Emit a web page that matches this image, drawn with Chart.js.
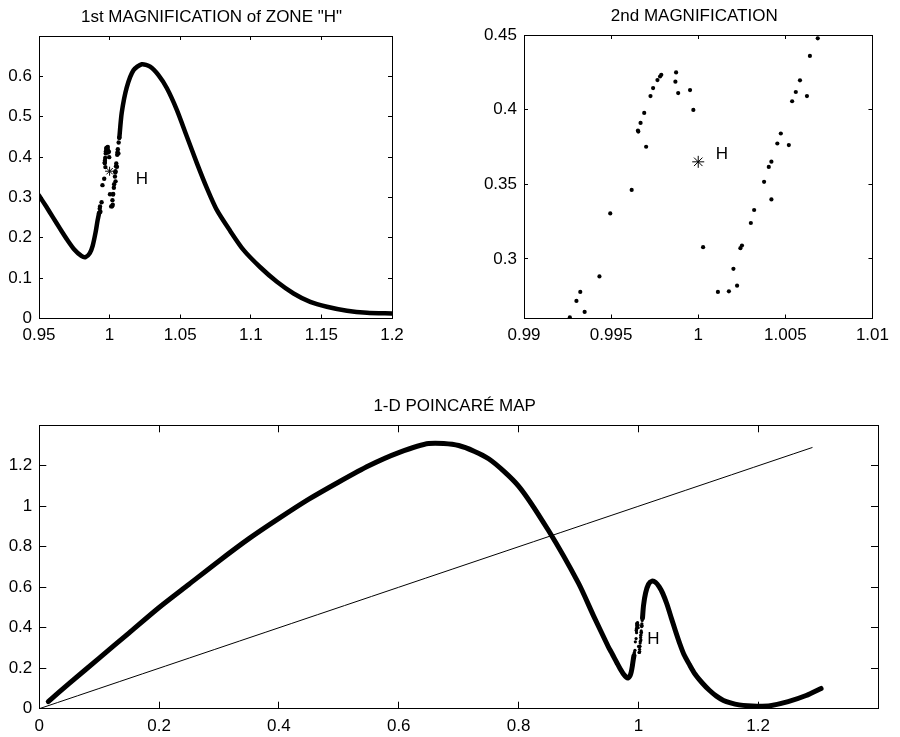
<!DOCTYPE html>
<html>
<head>
<meta charset="utf-8">
<title>1-D Poincaré map</title>
<script src="https://cdn.jsdelivr.net/npm/chart.js@4.4.1/dist/chart.umd.min.js"></script>
<style>
  html, body { margin: 0; padding: 0; background: #fff; }
  #wrap { position: relative; width: 900px; height: 737px; }
  canvas { position: absolute; }
</style>
</head>
<body>
<div id="wrap">
  <canvas id="mag1" width="450" height="360" style="left:0;top:0;width:450px;height:360px"></canvas>
  <canvas id="mag2" width="450" height="360" style="left:450px;top:0;width:450px;height:360px"></canvas>
  <canvas id="map" width="900" height="377" style="left:0;top:360px;width:900px;height:377px"></canvas>
</div>
<script>
// ---- data ----
// rising branch of the map (bottom panel only)
const riseX = [0.015, 0.05, 0.1, 0.15, 0.2, 0.25, 0.3, 0.35, 0.4, 0.45, 0.5, 0.55, 0.6, 0.65, 0.7, 0.75, 0.8, 0.85, 0.9, 0.925];
const riseY = [0.035, 0.125, 0.25, 0.375, 0.5, 0.615, 0.73, 0.84, 0.94, 1.035, 1.12, 1.2, 1.265, 1.31, 1.3, 1.235, 1.1, 0.88, 0.62, 0.46];
// dip before zone H
const dipX = [0.95, 0.955, 0.96, 0.965, 0.97, 0.975, 0.98, 0.983, 0.986, 0.988, 0.99, 0.9915, 0.9926];
const dipY = [0.305, 0.278, 0.25, 0.222, 0.195, 0.171, 0.155, 0.152, 0.162, 0.18, 0.212, 0.243, 0.262];
// scattered iterates around H (2nd magnification)
const zoneX = [0.99263, 0.99301, 0.99323, 0.99348, 0.99433, 0.99495, 0.99618, 0.99654, 0.99656, 0.99669,
  0.9969, 0.99701, 0.99726, 0.99741, 0.99766, 0.99781, 0.99788, 0.99873, 0.99869, 0.99885,
  0.99953, 0.99972, 1.00028, 1.00113, 1.00176, 1.00202, 1.00223, 1.00242, 1.00251, 1.00302,
  1.00321, 1.00378, 1.00405, 1.0042, 1.0042, 1.00454, 1.00474, 1.0052, 1.00539, 1.0056,
  1.00584, 1.00624, 1.00641, 1.00686];
const zoneY = [0.2607, 0.2718, 0.2778, 0.2644, 0.2882, 0.3304, 0.3462, 0.386, 0.3853, 0.3911,
  0.3978, 0.3751, 0.4091, 0.4144, 0.4198, 0.4222, 0.4233, 0.4249, 0.4187, 0.4111,
  0.4131, 0.3998, 0.3078, 0.2778, 0.2782, 0.2933, 0.282, 0.3071, 0.3089, 0.324,
  0.3327, 0.3516, 0.3616, 0.3651, 0.3398, 0.3773, 0.384, 0.3762, 0.4056, 0.4118,
  0.4196, 0.4091, 0.436, 0.4478];
// hump after zone H
const peakX = [1.0069, 1.0086, 1.0121, 1.0169, 1.0228, 1.0287, 1.0346, 1.0405, 1.0476, 1.0547, 1.0618, 1.0689,
  1.0759, 1.0854, 1.0948, 1.1067, 1.1185, 1.1303, 1.1421, 1.1539, 1.1681, 1.1823, 1.2];
const peakY = [0.448, 0.51, 0.572, 0.615, 0.63, 0.624, 0.603, 0.571, 0.517, 0.451, 0.385, 0.323,
  0.269, 0.217, 0.17, 0.127, 0.091, 0.062, 0.041, 0.029, 0.019, 0.014, 0.0124];
// tail (bottom panel only)
const tailX = [1.2, 1.22, 1.25, 1.28, 1.305];
const tailY = [0.0124, 0.015, 0.035, 0.065, 0.1];
// identity line
const diagX = [0, 1.29];
const diagY = [0, 1.29];
// fixed point H
const hX = 1.0, hY = 0.365;

const FONT = "'Liberation Sans', Arial, sans-serif";
Chart.defaults.font.family = FONT;
Chart.defaults.font.size = 17;
Chart.defaults.color = '#000';

const pts = (xs, ys) => xs.map((x, i) => ({ x: x, y: ys[i] }));
const fmt = v => String(parseFloat(v.toFixed(6)));

const panelTitle = {
  id: 'panelTitle',
  afterDraw(chart, args, opts) {
    const a = chart.chartArea, ctx = chart.ctx;
    ctx.save();
    ctx.font = '17px ' + FONT;
    ctx.fillStyle = '#000';
    ctx.textAlign = 'center';
    ctx.textBaseline = 'alphabetic';
    ctx.fillText(opts.text, (a.left + a.right) / 2 - 4, a.top - 14);
    if (opts.label) {
      const px = chart.scales.x.getPixelForValue(opts.label.x);
      const py = chart.scales.y.getPixelForValue(opts.label.y);
      ctx.textBaseline = 'middle';
      ctx.fillText(opts.label.text, px, py);
    }
    ctx.restore();
  }
};

function frame(box, w, h, xr, yr, tick, hide) {
  const lbl = v => (hide.indexOf(+v.toFixed(6)) >= 0 ? '' : fmt(v));
  const grid = { drawOnChartArea: false, tickLength: -tick, color: '#000', lineWidth: 1 };
  const border = { color: '#000', width: 1 };
  return {
    responsive: false,
    animation: false,
    events: [],
    layout: { padding: { left: 0, top: box.top, right: w - box.right, bottom: h - box.bottom - 30 } },
    plugins: { legend: { display: false }, tooltip: { enabled: false } },
    scales: {
      x: { type: 'linear', position: 'bottom', min: xr[0], max: xr[1],
        ticks: { stepSize: xr[2], callback: lbl, maxRotation: 0, autoSkip: false, padding: 7 + tick },
        grid: grid, border: border, afterFit: s => { s.height = 30; } },
      x2: { type: 'linear', position: 'top', min: xr[0], max: xr[1],
        ticks: { stepSize: xr[2], display: false },
        grid: grid, border: border, afterFit: s => { s.height = 0; } },
      y: { type: 'linear', position: 'left', min: yr[0], max: yr[1],
        ticks: { stepSize: yr[2], callback: lbl, padding: 7 + tick },
        grid: grid, border: border, afterFit: s => { s.width = box.left; } },
      y2: { type: 'linear', position: 'right', min: yr[0], max: yr[1],
        ticks: { stepSize: yr[2], display: false },
        grid: grid, border: border, afterFit: s => { s.width = 0; } }
    }
  };
}

const curve = (data, width) => ({
  data: data, showLine: true, borderColor: '#000', borderWidth: width,
  pointRadius: 0, borderCapStyle: 'round', borderJoinStyle: 'round', tension: 0.25
});
const dots = (data, r) => ({
  data: data, showLine: false, pointRadius: r, pointStyle: 'circle',
  backgroundColor: '#000', borderWidth: 0
});
const star = r => ({
  data: [{ x: hX, y: hY }], showLine: false, pointStyle: 'star', pointRadius: r,
  borderColor: '#000', borderWidth: 1
});

// 1st magnification
let opt1 = frame({ left: 39, top: 36, right: 392, bottom: 318.5 }, 450, 360,
  [0.95, 1.2, 0.05], [0, 0.7, 0.1], 4, [0.7]);
opt1.plugins.panelTitle = { text: '1st MAGNIFICATION of ZONE "H"', label: { text: 'H', x: 1.0228, y: 0.344 } };
new Chart(document.getElementById('mag1'), {
  type: 'scatter',
  data: { datasets: [
    curve(pts(dipX, dipY), 4.5),
    dots(pts(zoneX, zoneY), 2.2),
    curve(pts(peakX, peakY), 4.5),
    star(4.5)
  ] },
  options: opt1,
  plugins: [panelTitle]
});

// 2nd magnification
let opt2 = frame({ left: 74, top: 35, right: 428, bottom: 318.5 }, 450, 360,
  [0.99, 1.01, 0.005], [0.26, 0.45, 0.05], 4, []);
opt2.scales.y.ticks.callback = v => fmt(v);
opt2.scales.y.afterBuildTicks = s => { s.ticks = [0.3, 0.35, 0.4, 0.45].map(v => ({ value: v })); };
opt2.scales.y2.afterBuildTicks = s => { s.ticks = [0.3, 0.35, 0.4, 0.45].map(v => ({ value: v })); };
opt2.plugins.panelTitle = { text: '2nd MAGNIFICATION', label: { text: 'H', x: 1.00136, y: 0.37 } };
new Chart(document.getElementById('mag2'), {
  type: 'scatter',
  data: { datasets: [
    dots(pts(zoneX, zoneY), 2.1),
    star(6)
  ] },
  options: opt2,
  plugins: [panelTitle]
});

// full 1-D map
let opt3 = frame({ left: 39.3, top: 65.3, right: 878, bottom: 348.7 }, 900, 377,
  [0, 1.4, 0.2], [0, 1.4, 0.2], 7, [1.4]);
opt3.plugins.panelTitle = { text: '1-D POINCARÉ MAP', label: { text: 'H', x: 1.025, y: 0.345 } };
new Chart(document.getElementById('map'), {
  type: 'scatter',
  data: { datasets: [
    curve(pts(diagX, diagY), 1),
    curve(pts(riseX.concat(dipX), riseY.concat(dipY)), 5),
    dots(pts(zoneX, zoneY), 1.6),
    curve(pts(peakX.concat(tailX.slice(1)), peakY.concat(tailY.slice(1))), 5)
  ] },
  options: opt3,
  plugins: [panelTitle]
});
</script>
</body>
</html>
